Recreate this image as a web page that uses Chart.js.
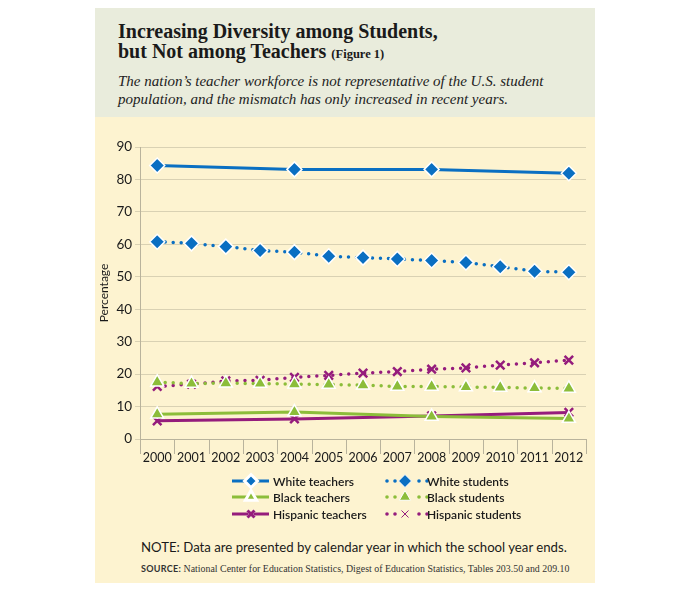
<!DOCTYPE html>
<html>
<head>
<meta charset="utf-8">
<script src="https://cdn.jsdelivr.net/npm/chart.js@4/dist/chart.umd.min.js"></script>
<style>
    body { margin: 0; background: #fff; width: 690px; height: 590px; position: relative; }
    #panel { position: absolute; left: 95px; top: 8px; width: 500px; height: 575px; background: #fdf3d0; }
    #head { position: absolute; left: 0; top: 0; width: 500px; height: 109px; background: #e9ecdc; }
    #title { position: absolute; left: 23px; top: 13px; font-family: "Liberation Serif", serif; font-weight: bold; font-size: 20px; line-height: 20px; color: #1a1a1a; }
    #title small { font-size: 12.5px; }
    #sub { position: absolute; left: 23px; top: 65px; font-family: "Liberation Serif", serif; font-style: italic; font-size: 15px; line-height: 17.5px; color: #222; }
    #wrap { position: absolute; left: 0; top: 109px; width: 500px; height: 415px; }
    #note { position: absolute; left: 46px; top: 531px; font-family: Lato, sans-serif; font-size: 13.2px; color: #1a1a1a; }
    #source { position: absolute; left: 46px; top: 555px; font-family: "Liberation Serif", serif; font-size: 9.9px; color: #333; }
    #source b { font-family: Lato, sans-serif; font-size: 9px; letter-spacing: 0.3px; }
</style>
</head>
<body>
<div id="panel">
    <div id="head">
        <div id="title">Increasing Diversity among Students,<br>but Not among Teachers <small>(Figure 1)</small></div>
        <div id="sub">The nation’s teacher workforce is not representative of the U.S. student<br>population, and the mismatch has only increased in recent years.</div>
    </div>
    <div id="wrap"><canvas id="chart" width="500" height="415"></canvas></div>
    <div id="note">NOTE: Data are presented by calendar year in which the school year ends.</div>
    <div id="source"><b>SOURCE:</b> National Center for Education Statistics, Digest of Education Statistics, Tables 203.50 and 209.10</div>
</div>
<script>
// data
const years = ['2000', '2001', '2002', '2003', '2004', '2005', '2006', '2007', '2008', '2009', '2010', '2011', '2012'];
const whiteTeachers = [84.3, null, null, null, 83.1, null, null, null, 83.1, null, null, null, 81.9];
const blackTeachers = [7.6, null, null, null, 8.3, null, null, null, 6.9, null, null, null, 6.3];
const hispanicTeachers = [5.6, null, null, null, 6.2, null, null, null, 7.1, null, null, null, 8.2];
const whiteStudents = [60.8, 60.3, 59.3, 58.1, 57.6, 56.3, 55.9, 55.5, 55.0, 54.4, 53.1, 51.7, 51.4];
const blackStudents = [17.5, 17.1, 17.2, 17.1, 16.9, 16.8, 16.6, 16.2, 16.2, 16.0, 15.9, 15.7, 15.6];
const hispanicStudents = [16.2, 16.9, 17.9, 18.1, 19.0, 19.6, 20.3, 20.8, 21.5, 21.9, 22.8, 23.5, 24.3];

const BLUE = '#0a6fc2', GREEN = '#8cbd3a', PURPLE = '#951c7c';
const AXIS = '#b9b39c';

function series(label, data, colour, style, dotted) {
    return {
        label: label,
        data: data,
        borderColor: colour,
        backgroundColor: colour,
        borderWidth: dotted ? 3.5 : 3,
        borderCapStyle: dotted ? 'round' : 'butt',
        borderDash: dotted ? [0, 8] : [],
        spanGaps: true,
        tension: 0,
        pointStyle: style,
        pointRadius: style === 'crossRot' ? 6 : 7.5,
        pointBorderWidth: style === 'crossRot' ? 2.5 : 1.5,
        pointBorderColor: style === 'crossRot' ? colour : '#ffffff',
        pointBackgroundColor: colour
    };
}

// little separators between the year labels
const separatorPlugin = {
    id: 'yearSeparators',
    afterDraw(chart) {
        const xs = chart.scales.x, ctx = chart.ctx;
        const half = (xs.getPixelForValue(1) - xs.getPixelForValue(0)) / 2;
        ctx.save();
        ctx.setLineDash([]);
        ctx.strokeStyle = AXIS;
        ctx.lineWidth = 1;
        for (let i = 0; i <= years.length; i++) {
            const x = Math.round(xs.getPixelForValue(i) - half) + 0.5;
            ctx.beginPath();
            ctx.moveTo(x, xs.top);
            ctx.lineTo(x, xs.top + 15);
            ctx.stroke();
        }
        ctx.restore();
    }
};

const legendPlugin = {
    id: 'sideLegend',
    afterDraw(chart) {
        const ctx = chart.ctx;
        const cols = [137, 291];
        const rows = [364, 380, 397];
        chart.data.datasets.forEach(function (ds, i) {
            const x = cols[i % 2], y = rows[Math.floor(i / 2)];
            const dotted = ds.borderDash.length > 0;
            const cross = ds.pointStyle === 'crossRot';
            ctx.save();
            ctx.setLineDash([]);
            ctx.strokeStyle = ds.borderColor;
            ctx.fillStyle = ds.borderColor;
            if (dotted) {
                for (const dx of [0, 8, 32, 40]) {
                    ctx.beginPath();
                    ctx.arc(x + dx + 1, y, 1.8, 0, Math.PI * 2);
                    ctx.fill();
                }
            } else {
                ctx.lineWidth = 3;
                ctx.beginPath();
                ctx.moveTo(x, y);
                ctx.lineTo(x + 37, y);
                ctx.stroke();
            }
            if (cross) {
                // white halo under the cross
                ctx.strokeStyle = '#ffffff';
                Chart.helpers.drawPoint(ctx, { pointStyle: 'crossRot', radius: 5, rotation: 0, borderWidth: 4.5 }, x + 19, y);
                ctx.strokeStyle = ds.borderColor;
            } else {
                ctx.strokeStyle = ds.pointBorderColor;
            }
            Chart.helpers.drawPoint(ctx, {
                pointStyle: ds.pointStyle,
                radius: cross ? 5 : 6.5,
                rotation: 0,
                borderWidth: cross ? 2.2 : ds.pointBorderWidth
            }, x + 19, y);
            ctx.fillStyle = '#1a1a1a';
            ctx.font = '600 12px Lato';
            ctx.textBaseline = 'middle';
            ctx.fillText(ds.label, x + 41, y + 1);
            ctx.restore();
        });
    }
};

new Chart(document.getElementById('chart'), {
    type: 'line',
    data: {
        labels: years,
        datasets: [
            series('White teachers', whiteTeachers, BLUE, 'rectRot', false),
            series('White students', whiteStudents, BLUE, 'rectRot', true),
            series('Black teachers', blackTeachers, GREEN, 'triangle', false),
            series('Black students', blackStudents, GREEN, 'triangle', true),
            series('Hispanic teachers', hispanicTeachers, PURPLE, 'crossRot', false),
            series('Hispanic students', hispanicStudents, PURPLE, 'crossRot', true)
        ]
    },
    options: {
        responsive: false,
        animation: false,
        layout: { padding: { top: 30, right: 8, bottom: 64, left: 0 } },
        plugins: {
            legend: { display: false },
            tooltip: { enabled: false }
        },
        scales: {
            x: {
                offset: true,
                grid: { display: false },
                border: { color: AXIS },
                ticks: { padding: 3, color: '#1a1a1a', font: { family: 'Lato', size: 12.5 }, maxRotation: 0, autoSkip: false }
            },
            y: {
                min: 0,
                max: 90,
                ticks: { stepSize: 10, color: '#1a1a1a', font: { family: 'Lato', size: 13.5 }, padding: 3 },
                grid: { color: '#d9d1b3', tickLength: 5 },
                border: { color: AXIS },
                title: { display: true, text: 'Percentage', color: '#1a1a1a', font: { family: 'Lato', size: 12 }, padding: 2 }
            }
        }
    },
    plugins: [separatorPlugin, legendPlugin]
});
</script>
</body>
</html>
